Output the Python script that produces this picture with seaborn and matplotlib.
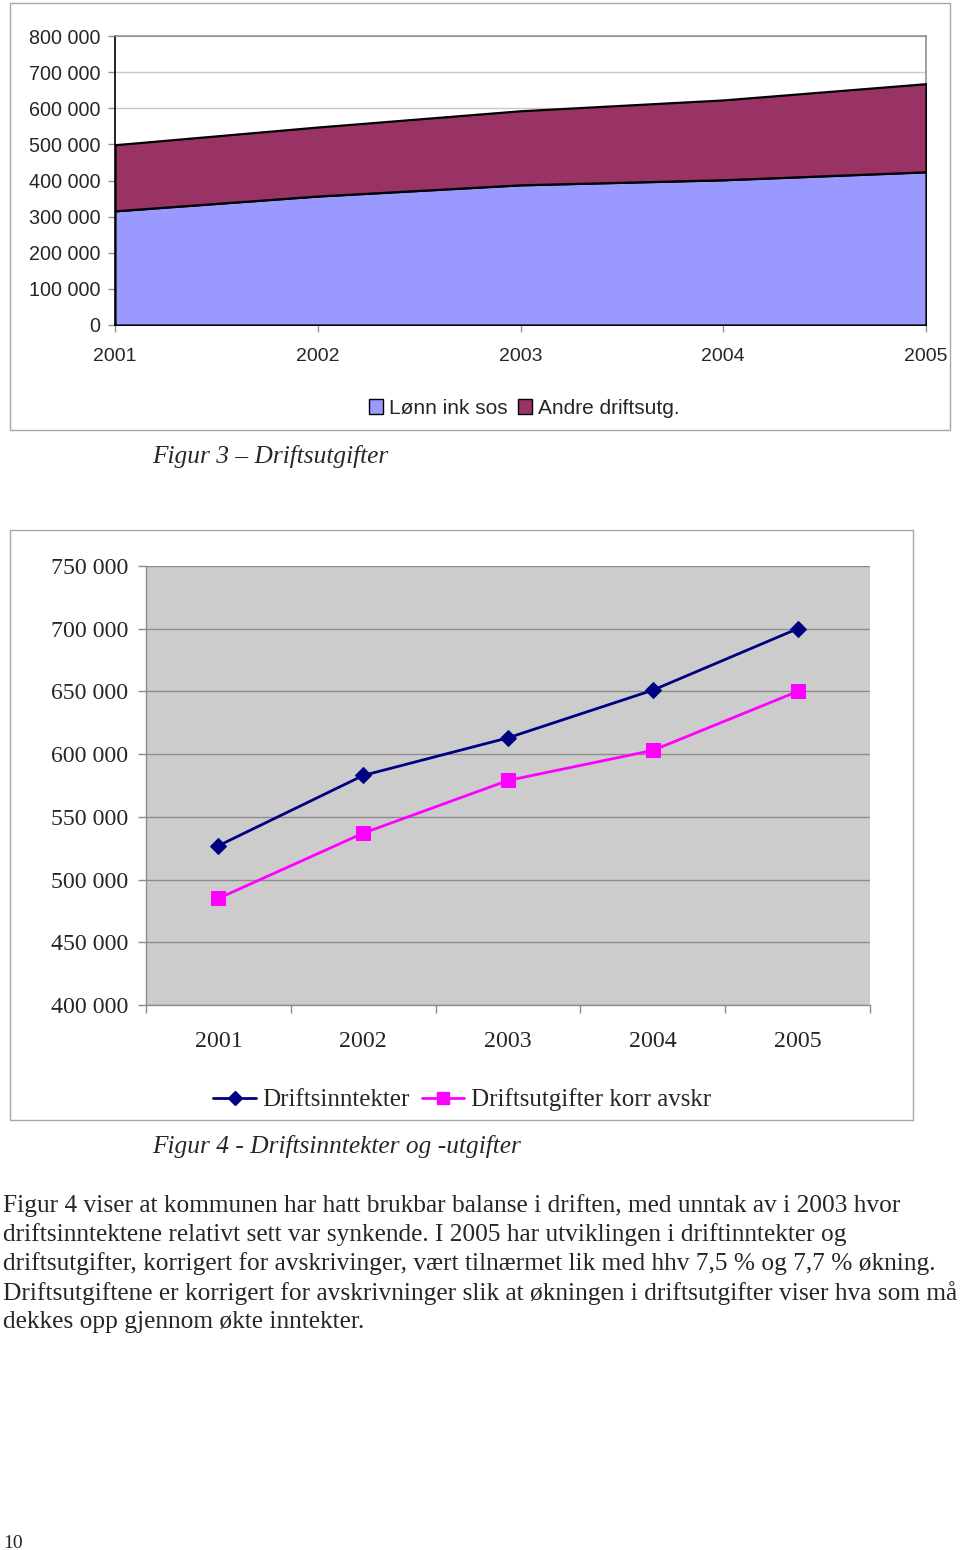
import numpy as np
import pandas as pd
import seaborn as sns
import matplotlib.pyplot as plt
from matplotlib.patches import Rectangle, Patch
from matplotlib.lines import Line2D
from matplotlib.ticker import FuncFormatter

# data
years = [2001, 2002, 2003, 2004, 2005]
lonn = [316000, 357000, 388000, 402000, 424000]          # Lønn ink sos
andre = [183000, 191000, 205000, 221000, 244000]         # Andre driftsutg.
inntekter = [527000, 583000, 613000, 651000, 700000]     # Driftsinntekter
utgifter = [485000, 537000, 579000, 603000, 650000]      # Driftsutgifter korr avskr

paragraph = [
    "Figur 4 viser at kommunen har hatt brukbar balanse i driften, med unntak av i 2003 hvor",
    "driftsinntektene relativt sett var synkende. I 2005 har utviklingen i driftinntekter og",
    "driftsutgifter, korrigert for avskrivinger, vært tilnærmet lik med hhv 7,5 % og 7,7 % økning.",
    "Driftsutgiftene er korrigert for avskrivninger slik at økningen i driftsutgifter viser hva som må",
    "dekkes opp gjennom økte inntekter.",
]

sns.set_theme(style="white")
plt.rcParams['font.family'] = ['Liberation Sans', 'DejaVu Sans']

W, H = 960, 1550
def fx(x):
    return x / W
def fy(y):
    return 1 - y / H

fig = plt.figure(figsize=(9.6, 15.5), dpi=100)
fig.patch.set_facecolor('white')

space_fmt = FuncFormatter(lambda v, p: f"{int(v):,}".replace(",", " "))

# ---------- Figur 3: stacked area ----------
fig.add_artist(Rectangle((fx(10), fy(430)), 940 / W, 427 / H, transform=fig.transFigure,
                         fill=False, edgecolor='#a6a6a6', lw=1))
ax1 = fig.add_axes([fx(115), fy(325), (926 - 115) / W, (325 - 36) / H])
ax1.stackplot(years, lonn, andre, colors=['#9999FF', '#993366'],
              edgecolor='black', linewidth=1.6, zorder=3)
ax1.set_xlim(2001, 2005)
ax1.set_ylim(0, 800000)
ax1.set_yticks(range(0, 800001, 100000))
ax1.set_xticks(years)
ax1.yaxis.set_major_formatter(space_fmt)
ax1.grid(axis='y', color='#c8c8c8', lw=1)
ax1.set_axisbelow(True)
for s in ['top', 'right']:
    ax1.spines[s].set_color('#909090')
    ax1.spines[s].set_linewidth(1.2)
for s in ['left', 'bottom']:
    ax1.spines[s].set_color('black')
    ax1.spines[s].set_linewidth(1.2)
ax1.tick_params(axis='y', left=True, length=5, width=1, color='#909090', pad=5.5, labelsize=14.2)
ax1.tick_params(axis='x', bottom=True, length=5, width=1, color='#909090', pad=11.5, labelsize=14)
ax1.set_xlabel('')
ax1.set_ylabel('')

fig.legend(handles=[Patch(facecolor='#9999FF', edgecolor='black', label='Lønn ink sos'),
                    Patch(facecolor='#993366', edgecolor='black', label='Andre driftsutg.')],
           loc='center', bbox_to_anchor=(fx(524), fy(408)), ncol=2, frameon=False,
           fontsize=15, handlelength=0.7, handleheight=0.7, handletextpad=0.25,
           columnspacing=0.5)

fig.text(fx(152), fy(456), "Figur 3 – Driftsutgifter", family='Liberation Serif',
         style='italic', fontsize=18.3, va='center', ha='left')

# ---------- Figur 4: line chart ----------
fig.add_artist(Rectangle((fx(10), fy(1120)), 903 / W, 590 / H, transform=fig.transFigure,
                         fill=False, edgecolor='#a6a6a6', lw=1))
ax2 = fig.add_axes([fx(146), fy(1005), (870 - 146) / W, (1005 - 566) / H])
ax2.set_facecolor('#CCCCCC')
df = pd.DataFrame({'pos': range(len(years)), 'inn': inntekter, 'utg': utgifter})
sns.lineplot(data=df, x='pos', y='inn', ax=ax2, color='#000080', lw=2,
             marker='D', markersize=8, markeredgecolor='#000080', zorder=4)
sns.lineplot(data=df, x='pos', y='utg', ax=ax2, color='#FF00FF', lw=2,
             marker='s', markersize=9.5, markeredgecolor='#FF00FF', zorder=4)
ax2.set_xlim(-0.5, len(years) - 0.5)
ax2.set_ylim(400000, 750000)
ax2.set_yticks(range(400000, 750001, 50000))
ax2.yaxis.set_major_formatter(space_fmt)
ax2.set_xticks(range(len(years)))
ax2.set_xticklabels([str(y) for y in years])
ax2.set_xticks(np.arange(-0.5, len(years), 1.0), minor=True)
ax2.grid(axis='y', color='#8c8c8c', lw=1)
ax2.set_axisbelow(True)
for s in ['top', 'right']:
    ax2.spines[s].set_visible(False)
for s in ['left', 'bottom']:
    ax2.spines[s].set_color('#8c8c8c')
    ax2.spines[s].set_linewidth(1)
ax2.tick_params(axis='y', left=True, length=6, width=1, color='#8c8c8c', pad=7,
                labelsize=17.2, labelfontfamily='Liberation Serif')
ax2.tick_params(axis='x', which='major', bottom=False, length=0, pad=19,
                labelsize=17.2, labelfontfamily='Liberation Serif')
ax2.tick_params(axis='x', which='minor', bottom=True, length=6, width=1, color='#8c8c8c')
ax2.set_xlabel('')
ax2.set_ylabel('')

fig.legend(handles=[Line2D([], [], color='#000080', lw=2, marker='D', markersize=7,
                           label='Driftsinntekter'),
                    Line2D([], [], color='#FF00FF', lw=2, marker='s', markersize=8.5,
                           label='Driftsutgifter korr avskr')],
           loc='center', bbox_to_anchor=(fx(462), fy(1100)), ncol=2, frameon=False,
           prop={'family': 'Liberation Serif', 'size': 18}, handlelength=1.7,
           handletextpad=0.25, columnspacing=0.5)

fig.text(fx(152), fy(1147), "Figur 4 - Driftsinntekter og -utgifter", family='Liberation Serif',
         style='italic', fontsize=18.3, va='center', ha='left')

# ---------- body text ----------
for i, line in enumerate(paragraph):
    fig.text(fx(3), fy(1206 + 29 * i), line, family='Liberation Serif', fontsize=18.3,
             va='center', ha='left')
fig.text(fx(3), fy(1543), "10", family='Liberation Serif', fontsize=14, va='center', ha='left')

fig.savefig('out.png', dpi=100)
